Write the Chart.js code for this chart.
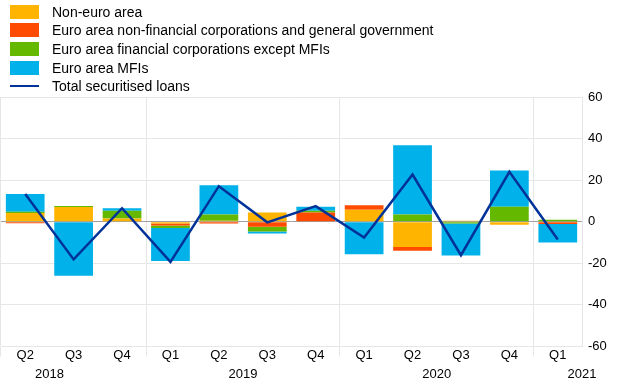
<!DOCTYPE html>
<html>
<head>
<meta charset="utf-8">
<script src="https://cdn.jsdelivr.net/npm/chart.js@4/dist/chart.umd.min.js"></script>
<style>
  body { margin: 0; background: #fff; font-family: "Liberation Sans", Arial, sans-serif; }
  #wrap { position: relative; width: 620px; height: 387px; }
  #legend { position: absolute; left: 0; top: 2.5px; }
  .row { height: 18.6px; display: flex; align-items: center; font-size: 14px; color: #000; white-space: nowrap; }
  .sw { width: 29px; margin-left: 9.5px; margin-right: 13.5px; }
  .box { height: 14px; }
  .ln { height: 2.5px; }
</style>
</head>
<body>
<div id="wrap">
  <canvas id="chart" width="620" height="387"></canvas>
  <div id="legend"></div>
</div>
<script>
// data
const quarters = ['Q2', 'Q3', 'Q4', 'Q1', 'Q2', 'Q3', 'Q4', 'Q1', 'Q2', 'Q3', 'Q4', 'Q1'];
const years = ['2018', '2019', '2020', '2021'];

const nonEuro = [4.2, 7.1, 1.6, -0.8, 0.5, 4.4, 0.3, 5.8, -12.2, 0.5, -1.4, 0];
const euroNfcGov = [-0.7, 0, 0, -1.0, -0.8, -2.4, 4.2, 2.1, -1.8, 0, 0, -1.1];
const euroFinCorp = [0.6, 0.5, 3.7, -1.2, 3.0, -2.3, 0.8, 0, 3.5, -0.8, 7.2, 1.0];
const euroMfi = [8.6, -26.0, 1.2, -15.9, 14.0, -0.9, 1.9, -15.6, 33.3, -15.4, 17.5, -8.9];
const totalLoans = [13.3, -18.1, 6.5, -19.3, 17.1, -0.3, 7.5, -7.6, 22.7, -16.1, 24.0, -8.5];

const yTicks = [-60, -40, -20, 0, 20, 40, 60];

const colors = {
    nonEuro: '#FFB400',
    nfc: '#FF4B00',
    fin: '#65B800',
    mfi: '#00B1EA',
    total: '#003299'
};

// legend (html, one item per row)
const legendItems = [
    ['Non-euro area', colors.nonEuro, 'box'],
    ['Euro area non-financial corporations and general government', colors.nfc, 'box'],
    ['Euro area financial corporations except MFIs', colors.fin, 'box'],
    ['Euro area MFIs', colors.mfi, 'box'],
    ['Total securitised loans', colors.total, 'ln']
];
const legend = document.getElementById('legend');
legendItems.forEach(([text, color, kind]) => {
    const row = document.createElement('div');
    row.className = 'row';
    row.innerHTML = `<span class="sw ${kind}" style="background:${color}"></span><span>${text}</span>`;
    legend.appendChild(row);
});

// year labels under the quarter ticks
const yearLabels = {
    id: 'yearLabels',
    afterDraw(chart) {
        const x = chart.scales.x;
        const ctx = chart.ctx;
        const last = quarters.length - 1;
        ctx.save();
        ctx.font = '13px "Liberation Sans", Arial, sans-serif';
        ctx.fillStyle = '#000';
        ctx.textAlign = 'center';
        ctx.textBaseline = 'middle';
        let yi = 0;
        let firstQ1 = quarters.indexOf('Q1') - 4;
        for (let i = firstQ1; yi < years.length; i += 4, yi++) {
            const pos = Math.min(i + 1.5, last + 0.5);
            const px = x.getPixelForValue(pos);
            ctx.fillText(years[yi], px, 374);
        }
        ctx.restore();
    }
};

const bar = (label, data, color) => ({
    type: 'bar',
    label: label,
    data: data,
    backgroundColor: color,
    borderWidth: 0,
    barPercentage: 0.8,
    categoryPercentage: 1.0,
    order: 1
});

const ctx = document.getElementById('chart').getContext('2d');
new Chart(ctx, {
    data: {
        labels: quarters,
        datasets: [
            {
                type: 'line',
                label: 'Total securitised loans',
                data: totalLoans,
                borderColor: colors.total,
                borderWidth: 2.5,
                pointRadius: 0,
                tension: 0,
                stack: 'total',
                order: 0
            },
            bar('Non-euro area', nonEuro, colors.nonEuro),
            bar('Euro area non-financial corporations and general government', euroNfcGov, colors.nfc),
            bar('Euro area financial corporations except MFIs', euroFinCorp, colors.fin),
            bar('Euro area MFIs', euroMfi, colors.mfi)
        ]
    },
    options: {
        responsive: false,
        animation: false,
        layout: { padding: { top: 97, left: 1, right: 0, bottom: 0 } },
        plugins: {
            legend: { display: false },
            tooltip: { enabled: false }
        },
        scales: {
            x: {
                stacked: true,
                offset: true,
                grid: {
                    offset: true,
                    tickLength: 10,
                    color: (c) => (c.index % 4 === 3 || c.index === 0 || c.index === quarters.length) ? '#e6e6e6' : 'rgba(0,0,0,0)'
                },
                border: { color: '#e6e6e6' },
                ticks: {
                    color: '#000',
                    font: { size: 13, family: '"Liberation Sans", Arial, sans-serif' },
                    padding: -9,
                    maxRotation: 0,
                    autoSkip: false
                },
                afterFit: (s) => { s.height = 40.5; }
            },
            y: {
                stacked: true,
                position: 'right',
                min: -60,
                max: 60,
                afterBuildTicks: (s) => { s.ticks = yTicks.map(v => ({ value: v })); },
                grid: {
                    drawTicks: false,
                    color: (c) => c.tick && c.tick.value === 0 ? '#a0a0a0' : '#e6e6e6'
                },
                border: { color: '#e6e6e6' },
                ticks: {
                    color: '#000',
                    padding: 6,
                    font: { size: 13, family: '"Liberation Sans", Arial, sans-serif' }
                },
                afterFit: (s) => { s.width = 38; }
            }
        }
    },
    plugins: [yearLabels]
});
</script>
</body>
</html>
